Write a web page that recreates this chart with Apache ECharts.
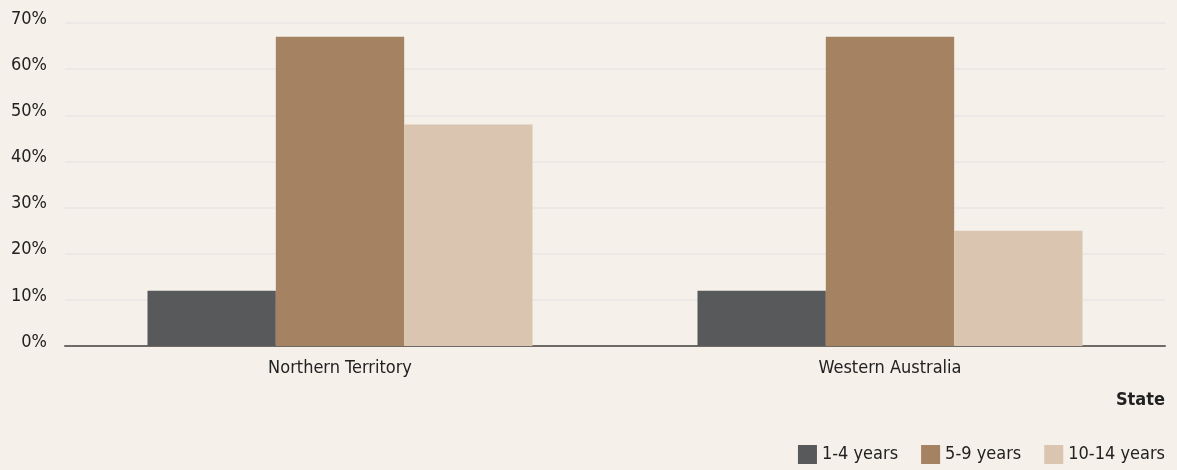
<!DOCTYPE html>
<html>
<head>
<meta charset="utf-8">
<script src="https://cdn.jsdelivr.net/npm/echarts@6/dist/echarts.min.js"></script>
<style>
  html, body { margin: 0; padding: 0; background: #f5f0ea; }
  #chart { width: 1177px; height: 470px; }
</style>
</head>
<body>
<div id="chart"></div>
<script>
// Share of children by age group, per state (%)
const states = ['Northern Territory', 'Western Australia'];
const ageGroups = ['1-4 years', '5-9 years', '10-14 years'];
const age1to4 = [12, 12];
const age5to9 = [67, 67];
const age10to14 = [48, 25];
const yTicks = [0, 10, 20, 30, 40, 50, 60, 70];

const FONT = '"DejaVu Sans Condensed", "Liberation Sans", sans-serif';
const FS = 18;
const colors = ['#58595b', '#a58262', '#d9c5b0'];
const seriesValues = [age1to4, age5to9, age10to14];

const chart = echarts.init(document.getElementById('chart'), null, { renderer: 'canvas' });
chart.setOption({
  backgroundColor: '#f5f0ea',
  animation: false,
  textStyle: { fontFamily: FONT },
  title: {
    text: 'State',
    right: 12,
    top: 391,
    padding: 0,
    textStyle: { fontFamily: FONT, fontSize: FS, fontWeight: 'bold', color: '#222' }
  },
  legend: {
    data: ageGroups,
    right: 12,
    top: 445,
    padding: 0,
    itemWidth: 19,
    itemHeight: 19,
    itemGap: 23,
    icon: 'rect',
    textStyle: { fontFamily: FONT, fontSize: FS, color: '#222' }
  },
  grid: { left: 65, right: 12, top: 23, bottom: 124 },
  xAxis: {
    type: 'category',
    data: states,
    axisTick: { show: false },
    axisLine: { lineStyle: { color: '#6f6a66', width: 2 } },
    axisLabel: { margin: 13, fontSize: FS, color: '#222', fontFamily: FONT }
  },
  yAxis: {
    type: 'value',
    min: yTicks[0],
    max: yTicks[yTicks.length - 1],
    interval: 10,
    axisLine: { show: false },
    axisTick: { show: false },
    splitLine: { lineStyle: { color: '#e8e6e4', width: 1.5 } },
    axisLabel: {
      margin: 18,
      fontSize: FS,
      color: '#222',
      fontFamily: FONT,
      verticalAlign: 'bottom',
      lineHeight: 8,
      formatter: v => v + '%'
    }
  },
  series: ageGroups.map((name, i) => ({
    name,
    type: 'bar',
    data: seriesValues[i],
    barGap: '0%',
    barCategoryGap: '30%',
    itemStyle: { color: colors[i] }
  }))
});
</script>
</body>
</html>
